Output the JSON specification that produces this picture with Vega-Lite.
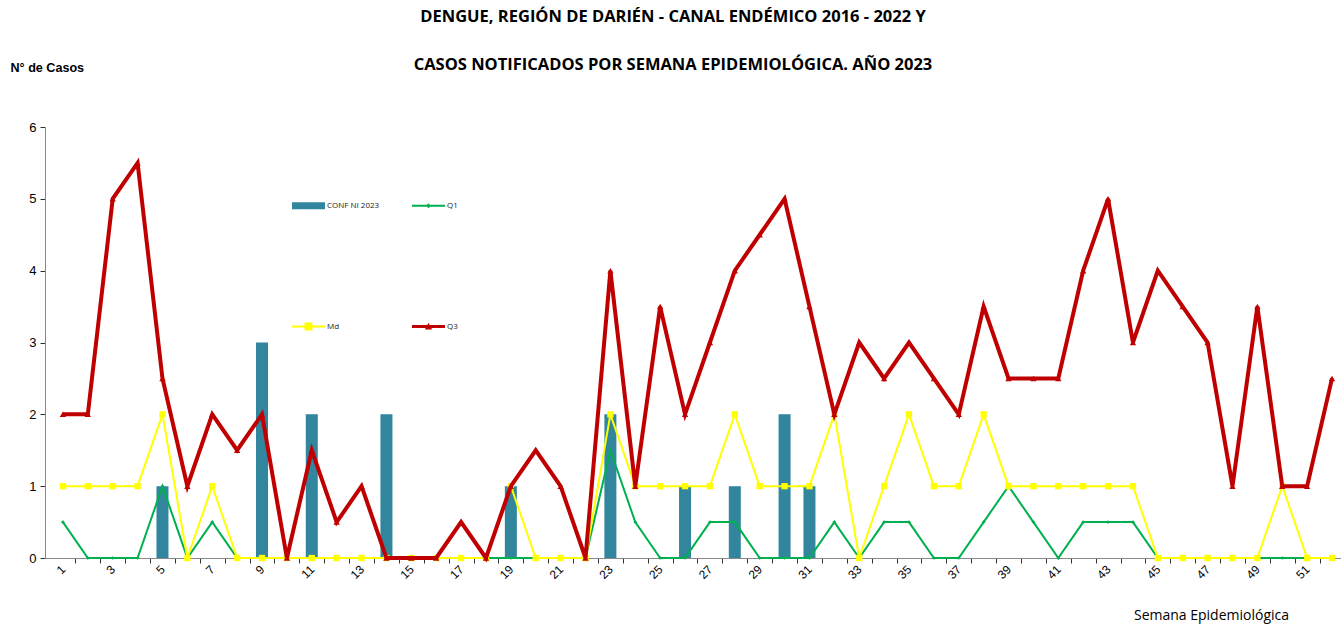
{
  "$schema": "https://vega.github.io/schema/vega-lite/v6.json",
  "width": 1296,
  "height": 431,
  "autosize": "none",
  "padding": {"left": 45, "top": 127, "right": 0, "bottom": 66},
  "background": "white",
  "config": {"view": {"stroke": null}},
  "title": {
    "text": ["DENGUE, REGIÓN DE DARIÉN - CANAL ENDÉMICO 2016 - 2022 Y", "CASOS NOTIFICADOS POR SEMANA EPIDEMIOLÓGICA. AÑO 2023"],
    "font": "Open Sans",
    "fontSize": 16.5,
    "fontWeight": "bold",
    "color": "black",
    "lineHeight": 48,
    "anchor": "middle",
    "frame": "group",
    "dx": -20,
    "dy": 68,
    "offset": 56
  },
  "data": {
    "values": [
      {"w": 1, "conf": 0, "q1": 0.5, "md": 1, "q3": 2},
      {"w": 2, "conf": 0, "q1": 0, "md": 1, "q3": 2},
      {"w": 3, "conf": 0, "q1": 0, "md": 1, "q3": 5},
      {"w": 4, "conf": 0, "q1": 0, "md": 1, "q3": 5.5},
      {"w": 5, "conf": 1, "q1": 1, "md": 2, "q3": 2.5},
      {"w": 6, "conf": 0, "q1": 0, "md": 0, "q3": 1},
      {"w": 7, "conf": 0, "q1": 0.5, "md": 1, "q3": 2},
      {"w": 8, "conf": 0, "q1": 0, "md": 0, "q3": 1.5},
      {"w": 9, "conf": 3, "q1": 0, "md": 0, "q3": 2},
      {"w": 10, "conf": 0, "q1": 0, "md": 0, "q3": 0},
      {"w": 11, "conf": 2, "q1": 0, "md": 0, "q3": 1.5},
      {"w": 12, "conf": 0, "q1": 0, "md": 0, "q3": 0.5},
      {"w": 13, "conf": 0, "q1": 0, "md": 0, "q3": 1},
      {"w": 14, "conf": 2, "q1": 0, "md": 0, "q3": 0},
      {"w": 15, "conf": 0, "q1": 0, "md": 0, "q3": 0},
      {"w": 16, "conf": 0, "q1": 0, "md": 0, "q3": 0},
      {"w": 17, "conf": 0, "q1": 0, "md": 0, "q3": 0.5},
      {"w": 18, "conf": 0, "q1": 0, "md": 0, "q3": 0},
      {"w": 19, "conf": 1, "q1": 0, "md": 1, "q3": 1},
      {"w": 20, "conf": 0, "q1": 0, "md": 0, "q3": 1.5},
      {"w": 21, "conf": 0, "q1": 0, "md": 0, "q3": 1},
      {"w": 22, "conf": 0, "q1": 0, "md": 0, "q3": 0},
      {"w": 23, "conf": 2, "q1": 1.5, "md": 2, "q3": 4},
      {"w": 24, "conf": 0, "q1": 0.5, "md": 1, "q3": 1},
      {"w": 25, "conf": 0, "q1": 0, "md": 1, "q3": 3.5},
      {"w": 26, "conf": 1, "q1": 0, "md": 1, "q3": 2},
      {"w": 27, "conf": 0, "q1": 0.5, "md": 1, "q3": 3},
      {"w": 28, "conf": 1, "q1": 0.5, "md": 2, "q3": 4},
      {"w": 29, "conf": 0, "q1": 0, "md": 1, "q3": 4.5},
      {"w": 30, "conf": 2, "q1": 0, "md": 1, "q3": 5},
      {"w": 31, "conf": 1, "q1": 0, "md": 1, "q3": 3.5},
      {"w": 32, "conf": 0, "q1": 0.5, "md": 2, "q3": 2},
      {"w": 33, "conf": 0, "q1": 0, "md": 0, "q3": 3},
      {"w": 34, "conf": 0, "q1": 0.5, "md": 1, "q3": 2.5},
      {"w": 35, "conf": 0, "q1": 0.5, "md": 2, "q3": 3},
      {"w": 36, "conf": 0, "q1": 0, "md": 1, "q3": 2.5},
      {"w": 37, "conf": 0, "q1": 0, "md": 1, "q3": 2},
      {"w": 38, "conf": 0, "q1": 0.5, "md": 2, "q3": 3.5},
      {"w": 39, "conf": 0, "q1": 1, "md": 1, "q3": 2.5},
      {"w": 40, "conf": 0, "q1": 0.5, "md": 1, "q3": 2.5},
      {"w": 41, "conf": 0, "q1": 0, "md": 1, "q3": 2.5},
      {"w": 42, "conf": 0, "q1": 0.5, "md": 1, "q3": 4},
      {"w": 43, "conf": 0, "q1": 0.5, "md": 1, "q3": 5},
      {"w": 44, "conf": 0, "q1": 0.5, "md": 1, "q3": 3},
      {"w": 45, "conf": 0, "q1": 0, "md": 0, "q3": 4},
      {"w": 46, "conf": 0, "q1": 0, "md": 0, "q3": 3.5},
      {"w": 47, "conf": 0, "q1": 0, "md": 0, "q3": 3},
      {"w": 48, "conf": 0, "q1": 0, "md": 0, "q3": 1},
      {"w": 49, "conf": 0, "q1": 0, "md": 0, "q3": 3.5},
      {"w": 50, "conf": 0, "q1": 0, "md": 1, "q3": 1},
      {"w": 51, "conf": 0, "q1": 0, "md": 0, "q3": 1},
      {"w": 52, "conf": 0, "q1": 0, "md": 0, "q3": 2.5}
    ]
  },
  "encoding": {
    "x": {
      "field": "w",
      "type": "quantitative",
      "scale": {"domain": [0.48, 52.16], "nice": false, "zero": false},
      "axis": {
        "title": "Semana Epidemiológica",
        "titleFont": "Open Sans",
        "titleFontSize": 14,
        "titleFontWeight": "normal",
        "titleColor": "black",
        "titleAlign": "center",
        "titleBaseline": "middle",
        "titleX": 1166,
        "titleY": 57,
        "values": [1, 1.5, 2.5, 3, 3.5, 4.5, 5, 5.5, 6.5, 7, 7.5, 8.5, 9, 9.5, 10.5, 11, 11.5, 12.5, 13, 13.5, 14.5, 15, 15.5, 16.5, 17, 17.5, 18.5, 19, 19.5, 20.5, 21, 21.5, 22.5, 23, 23.5, 24.5, 25, 25.5, 26.5, 27, 27.5, 28.5, 29, 29.5, 30.5, 31, 31.5, 32.5, 33, 33.5, 34.5, 35, 35.5, 36.5, 37, 37.5, 38.5, 39, 39.5, 40.5, 41, 41.5, 42.5, 43, 43.5, 44.5, 45, 45.5, 46.5, 47, 47.5, 48.5, 49, 49.5, 50.5, 51, 51.5],
        "labelExpr": "datum.value % 2 == 1 ? '' + datum.value : ''",
        "tickOpacity": {"condition": {"test": "datum.value % 1 == 0", "value": 0}, "value": 1},
        "labelAngle": -45,
        "labelAlign": "right",
        "labelBaseline": "middle",
        "labelFont": "Liberation Sans",
        "labelFontSize": 12,
        "labelColor": "black",
        "labelOverlap": false,
        "labelFlush": false,
        "labelPadding": 4,
        "tickSize": 5,
        "tickColor": "#333",
        "domainColor": "#888",
        "grid": false
      }
    },
    "y": {
      "type": "quantitative",
      "scale": {"domain": [0, 6], "nice": false},
      "axis": {
        "title": "N° de Casos",
        "titleAngle": 0,
        "titleAlign": "left",
        "titleBaseline": "middle",
        "titleX": -35,
        "titleY": -60,
        "titleFont": "Liberation Sans",
        "titleFontSize": 12.6,
        "titleFontWeight": "bold",
        "titleColor": "black",
        "values": [0, 1, 2, 3, 4, 5, 6],
        "labelFont": "Liberation Sans",
        "labelFontSize": 13,
        "labelColor": "black",
        "labelPadding": 4,
        "tickSize": 5,
        "tickColor": "#333",
        "domainColor": "#888",
        "grid": false
      }
    }
  },
  "layer": [
    {
      "transform": [{"filter": "datum.conf > 0"}],
      "mark": {"type": "bar", "width": 12},
      "encoding": {
        "y": {"field": "conf"},
        "color": {
          "datum": "CONF NI 2023",
          "scale": {"domain": ["CONF NI 2023", "Md", "Q1", "Q3"], "range": ["#31859C", "#FFFF00", "#00B050", "#C00000"]},
          "legend": {
            "orient": "none",
            "legendX": 247,
            "legendY": 62,
            "columns": 2,
            "title": null,
            "padding": 0,
            "labelFont": "Open Sans",
            "labelFontSize": 8,
            "labelColor": "#222",
            "labelOffset": 2,
            "symbolSize": 1089,
            "symbolStrokeWidth": 0,
            "columnPadding": 32,
            "rowPadding": 100,
            "encode": {
              "symbols": {
                "update": {
                  "shape": {"signal": "datum.value == 'CONF NI 2023' ? 'M-1,-0.21H1V0.21H-1Z' : datum.value == 'Q1' ? 'M-1,-0.06H1V0.06H-1Z M0,-0.15L0.15,0L0,0.15L-0.15,0Z' : datum.value == 'Md' ? 'M-1,-0.06H1V0.06H-1Z M-0.24,-0.24H0.24V0.24H-0.24Z' : 'M-1,-0.09H1V0.09H-1Z M-0.22,0.18L0,-0.22L0.22,0.18Z'"},
                  "fill": {"signal": "datum.value == 'CONF NI 2023' ? '#31859C' : datum.value == 'Q1' ? '#00B050' : datum.value == 'Md' ? '#FFFF00' : '#C00000'"},
                  "stroke": {"value": "transparent"},
                  "opacity": {"value": 1}
                }
              }
            }
          }
        }
      }
    },
    {
      "mark": {"type": "line", "strokeWidth": 2, "point": {"shape": "diamond", "size": 14, "filled": true}},
      "encoding": {"y": {"field": "q1"}, "color": {"datum": "Q1"}}
    },
    {
      "mark": {"type": "line", "strokeWidth": 2, "point": {"shape": "square", "size": 40, "filled": true}},
      "encoding": {"y": {"field": "md"}, "color": {"datum": "Md"}}
    },
    {
      "mark": {"type": "line", "strokeWidth": 4, "point": {"shape": "triangle-up", "size": 40, "filled": true}},
      "encoding": {"y": {"field": "q3"}, "color": {"datum": "Q3"}}
    }
  ]
}
